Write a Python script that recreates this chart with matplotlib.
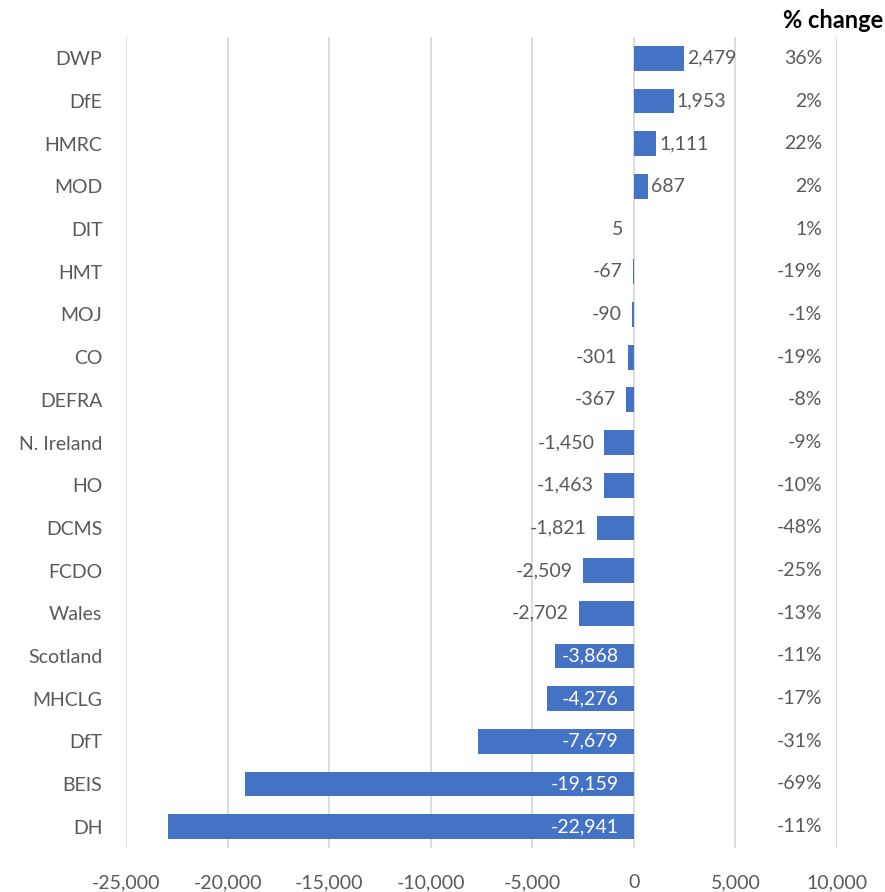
import matplotlib.pyplot as plt
import matplotlib.transforms as mtransforms

# departments, top to bottom
depts = ["DWP", "DfE", "HMRC", "MOD", "DIT", "HMT", "MOJ", "CO", "DEFRA",
         "N. Ireland", "HO", "DCMS", "FCDO", "Wales", "Scotland", "MHCLG",
         "DfT", "BEIS", "DH"]
change = [2479, 1953, 1111, 687, 5, -67, -90, -301, -367,
          -1450, -1463, -1821, -2509, -2702, -3868, -4276,
          -7679, -19159, -22941]
pct = ["36%", "2%", "22%", "2%", "1%", "-19%", "-1%", "-19%", "-8%",
       "-9%", "-10%", "-48%", "-25%", "-13%", "-11%", "-17%",
       "-31%", "-69%", "-11%"]
xticks = [-25000, -20000, -15000, -10000, -5000, 0, 5000, 10000]

plt.rcParams['font.family'] = ['Lato', 'DejaVu Sans']
grey = "#595959"
blue = "#4472C4"

fig = plt.figure(figsize=(8.85, 8.92), dpi=100)
ax = fig.add_axes([0.1424, 0.0493, 0.8034, 0.9092])

ypos = list(range(len(depts)))
ax.barh(ypos, change, height=0.58, color=blue, zorder=3)
ax.set_ylim(len(depts) - 0.5, -0.5)
ax.set_xlim(-25000, 10000)
ax.set_xticks(xticks)
ax.set_xticklabels([f"{t:,}" for t in xticks], fontsize=14, color=grey)
ax.set_yticks(ypos)
ax.set_yticklabels(depts, fontsize=14, color=grey)
ax.tick_params(axis="both", length=0)
ax.tick_params(axis="y", pad=17)
ax.tick_params(axis="x", pad=19)
ax.grid(axis="x", color="#D9D9D9", linewidth=1.3, zorder=0)
for s in ax.spines.values():
    s.set_visible(False)

# value labels
for y, v in zip(ypos, change):
    txt = f"{v:,}"
    if v >= 100:
        ax.text(v + 150, y, txt, ha="left", va="center", fontsize=14, color=grey)
    elif v > -3000:
        ax.text(min(v, 0) - 500, y, txt, ha="right", va="center", fontsize=14, color=grey)
    else:
        ax.text(-750, y, txt, ha="right", va="center", fontsize=14, color="white", zorder=4)

# % change column
trans = mtransforms.blended_transform_factory(fig.transFigure, ax.transData)
for y, p in zip(ypos, pct):
    ax.text(822 / 885, y, p, transform=trans, ha="right", va="center",
            fontsize=14, color=grey)
fig.text(0.998, 1 - 21 / 892, "% change", ha="right", va="center",
         fontsize=17, fontweight="bold", color="black")

fig.savefig("out.png", dpi=100)
